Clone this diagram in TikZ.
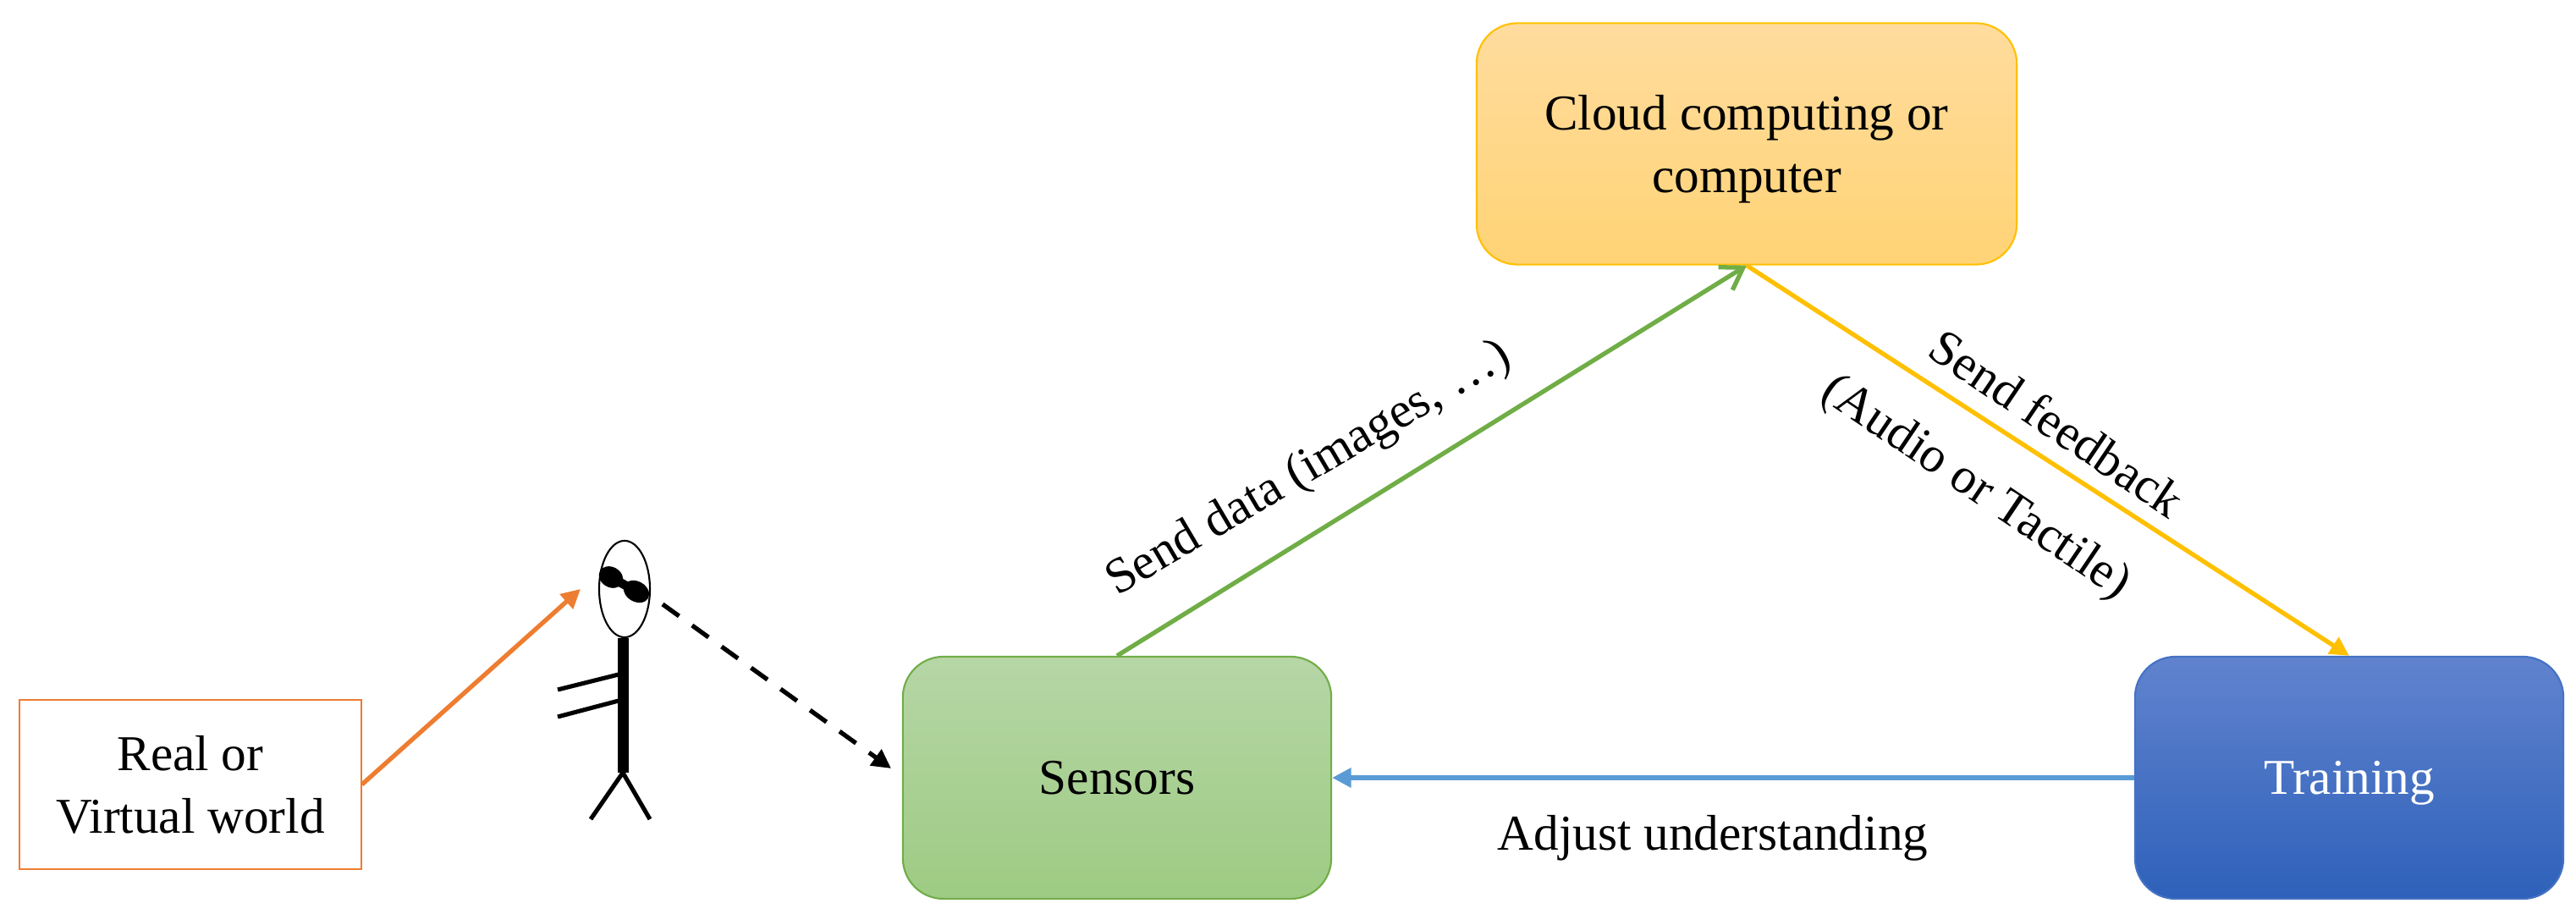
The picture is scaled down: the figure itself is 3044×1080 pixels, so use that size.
\documentclass[tikz,border=0pt]{standalone}
\usepackage{fontspec}
\setmainfont{Liberation Serif}
\usetikzlibrary{arrows.meta,shapes.geometric}
\definecolor{orangeline}{HTML}{ED7D31}
\definecolor{goldline}{HTML}{FFC000}
\definecolor{greenline}{HTML}{70AD47}
\definecolor{blueline}{HTML}{5B9BD5}
\definecolor{navyline}{HTML}{4472C4}
\definecolor{cloudtop}{HTML}{FFDC9E}
\definecolor{cloudbot}{HTML}{FFD375}
\definecolor{sensortop}{HTML}{B6D6A6}
\definecolor{sensorbot}{HTML}{9ECB83}
\definecolor{traintop}{HTML}{6183CE}
\definecolor{trainbot}{HTML}{2E61BA}
\tikzset{
  txt/.style={font=\fontsize{16.85}{21}\selectfont,align=center,inner sep=0pt},
  box/.style={txt,rounded corners=0.48cm,minimum width=5.06cm,minimum height=2.86cm,line width=0.6pt},
  link/.style={line width=1.5pt,-{Triangle[length=6.4pt,width=6.4pt]}},
  limb/.style={line width=1.45pt,black},
}
\begin{document}
\begin{tikzpicture}[x=0.01cm,y=-0.01cm]
  \useasboundingbox (0,0) rectangle (3044,1080);

  \node[txt,draw=orangeline,line width=0.6pt,minimum width=4.03cm,minimum height=2cm] (real) at (225,927) {Real or\\Virtual world};
  \node[box,draw=goldline,top color=cloudtop,bottom color=cloudbot,minimum width=6.38cm,minimum height=2.85cm,text depth=0pt] (cloud) at (2064,170) {Cloud computing or\\computer};
  \node[box,draw=greenline,top color=sensortop,bottom color=sensorbot] (sensors) at (1320,919) {Sensors};
  \node[box,draw=navyline,top color=traintop,bottom color=trainbot,text=white,text depth=0pt] (training) at (2776,919) {Training};

  % stick figure
  \node[draw,ellipse,line width=0.6pt,minimum width=0.6cm,minimum height=1.14cm,inner sep=0pt] (head) at (738,696) {};
  \coordinate (hip) at (736,913);
  \coordinate (armA) at (659,815);
  \coordinate (armB) at (659,847);
  \draw[line width=3.7pt] (head.south -| hip) -- (hip);
  \draw[limb] (731,797) -- (armA);
  \draw[limb] (731,828) -- (armB);
  \draw[limb] (hip) -- (698,968);
  \draw[limb] (hip) -- (768,968);
  \fill (722,682) ellipse [x radius=15,y radius=12,rotate=-30];
  \fill (752,699) ellipse [x radius=16,y radius=12,rotate=-30];
  \draw[line width=3pt] (722,682) -- (752,699);
  \draw[line width=1pt] (710,672) -- (765,706);

  % connectors
  \coordinate (orangeEnd) at (686,696);
  \coordinate (dashStart) at (783,714);
  \coordinate (dashEnd) at (1053,908);
  \draw[link,orangeline] (real.east) -- (orangeEnd);
  \draw[link,black,dash pattern=on 6.8pt off 5.4pt] (dashStart) -- (dashEnd);
  \draw[greenline,line width=1.5pt,-{Straight Barb[length=7pt,width=9pt]}] (sensors.north) -- (cloud.south);
  \draw[link,goldline] (cloud.south) -- (training.north);
  \draw[link,blueline] (training.west) -- (sensors.east);

  % labels
  \node[txt,rotate=30.5] (ldata) at (1547,555) {Send data (images, …)};
  \node[txt,rotate=-34] (lfeed) at (2431,500) {Send feedback};
  \node[txt,rotate=-34] (laudio) at (2334,577) {(Audio or Tactile)};
  \node[txt] (ladjust) at (2024,990) {Adjust understanding};
\end{tikzpicture}
\end{document}
